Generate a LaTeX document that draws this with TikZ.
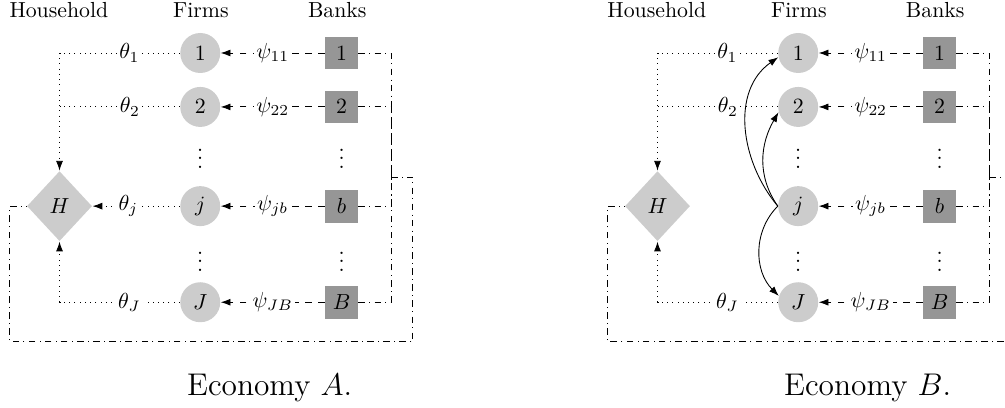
\documentclass[tikz,border=0pt]{standalone}
\usepackage{amsmath}
\usepackage{xcolor}
\usepackage{tikz}
\usetikzlibrary{shapes.geometric,arrows.meta}
\definecolor{firmgray}{gray}{0.80}
\definecolor{bankgray}{gray}{0.59}
\tikzset{
  firm/.style={circle, fill=firmgray, minimum size=0.645cm, inner sep=0pt},
  bank/.style={rectangle, fill=bankgray, minimum size=0.53cm, inner sep=0pt},
  hh/.style={diamond, fill=firmgray, minimum width=1.05cm, minimum height=1.13cm, inner sep=0pt},
  share/.style={dotted},
  loan/.style={dashed},
  own/.style={dashdotted},
  lbl/.style={fill=white, inner sep=1pt},
  head/.style={anchor=base},
  >={Latex[length=4.5pt,width=3.2pt]},
}
\newcommand{\econ}[2]{% xshift, letter
  \begin{scope}[xshift=#1cm, name prefix=#2-]
    \node[head] (hl) at (0.95,6.29) {Household};
    \node[head] (fl) at (3.24,6.29) {Firms};
    \node[head] (bl) at (5.44,6.29) {Banks};
    \node[hh] (H) at (0.96,3.24) {$H$};
    \node[firm] (f1) at (3.23,5.71) {$1$};
    \node[firm] (f2) at (3.23,4.84) {$2$};
    \node[firm] (fj) at (3.23,3.24) {$j$};
    \node[firm] (fJ) at (3.23,1.69) {$J$};
    \node (fd1) at (3.23,4.11) {$\vdots$};
    \node (fd2) at (3.23,2.45) {$\vdots$};
    \node[bank] (b1) at (5.51,5.71) {$1$};
    \node[bank] (b2) at (5.51,4.84) {$2$};
    \node[bank] (bb) at (5.51,3.24) {$b$};
    \node[bank] (bB) at (5.51,1.69) {$B$};
    \node (bd1) at (5.51,4.11) {$\vdots$};
    \node (bd2) at (5.51,2.45) {$\vdots$};
    \coordinate (bus) at (6.31,3.71);
    \coordinate (c1) at (6.66,3.71);
    \coordinate (c2) at (6.66,1.05);
    \coordinate (c3) at (0.16,1.05);
    \coordinate (c4) at (0.16,3.24);
    \foreach \f/\b/\s in {1/1/11, 2/2/22, j/b/jb, J/B/JB}{
      \draw[loan,->] (b\b) -- node[lbl] {$\psi_{\s}$} (f\f);
      \draw[own] (b\b.east) -| (bus);
    }
    \draw[own] (bus) -- (c1) -- (c2) -- (c3) -- (c4) -- (H.west);
    \node[anchor=base, font=\Large] (cap) at (4.35,0.18) {Economy $#2$.};
  \end{scope}}

\begin{document}
\begin{tikzpicture}
  \useasboundingbox (0,0) rectangle (16.21,6.565);
  \econ{0}{A}
  \econ{9.645}{B}

  % economy A: shares to the household
  \draw[share,->] (A-f1) -| node[lbl,pos=0.21] {$\theta_1$} (A-H);
  \draw[share] (A-f2) -- node[lbl,pos=0.415] {$\theta_2$} (A-f2 -| A-H);
  \draw[share,->] (A-fj) -- node[lbl,pos=0.59] {$\theta_j$} (A-H);
  \draw[share,->] (A-fJ) -| node[lbl,pos=0.21] {$\theta_J$} (A-H);

  % economy B: same, but firm j owns other firms
  \draw[share,->] (B-f1) -| node[lbl,pos=0.21] {$\theta_1$} (B-H);
  \draw[share] (B-f2) -- node[lbl,pos=0.415] {$\theta_2$} (B-f2 -| B-H);
  \draw[share,->] (B-fJ) -| node[lbl,pos=0.21] {$\theta_J$} (B-H);
  \draw[->] (B-fj.west) to[out=130, in=215] (B-f1.192);
  \draw[->] (B-fj.west) to[out=125, in=240] (B-f2.195);
  \draw[->] (B-fj.west) to[out=225, in=135] (B-fJ.162);
\end{tikzpicture}
\end{document}
